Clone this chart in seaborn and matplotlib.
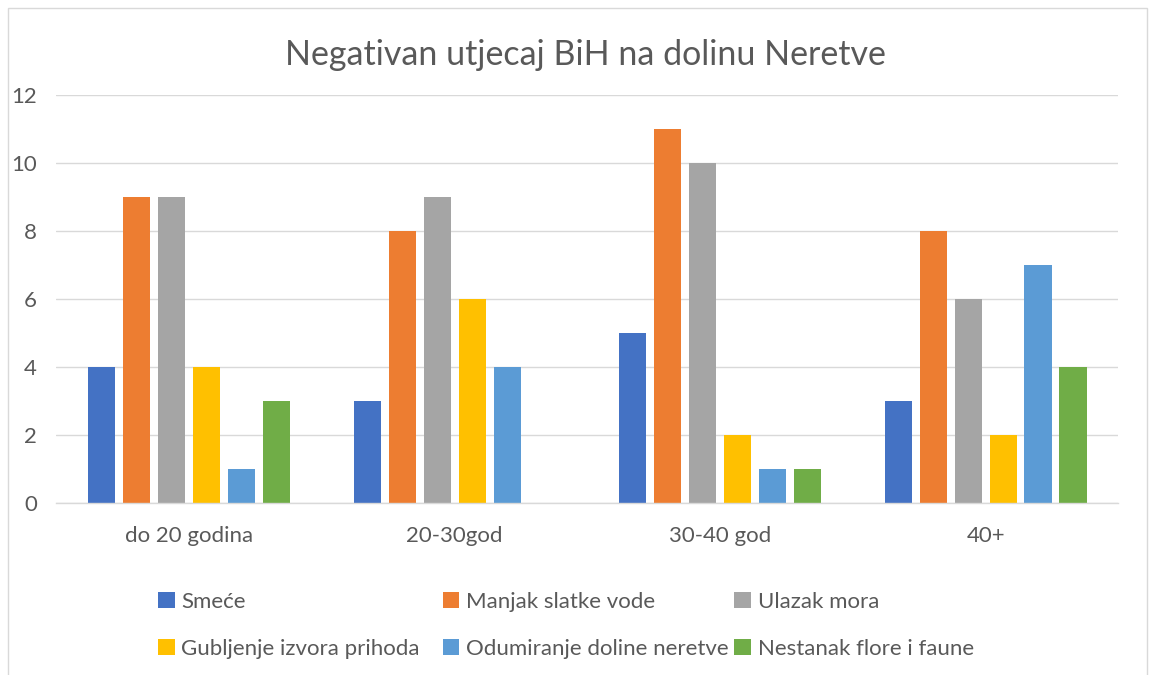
import numpy as np
import pandas as pd
import seaborn as sns
import matplotlib.pyplot as plt
from matplotlib.patches import Rectangle

# data
groups = ['do 20 godina', '20-30god', '30-40 god', '40+']
series = ['Smeće', 'Manjak slatke vode', 'Ulazak mora',
          'Gubljenje izvora prihoda', 'Odumiranje doline neretve', 'Nestanak flore i faune']
smece = [4, 3, 5, 3]
manjak = [9, 8, 11, 8]
ulazak = [9, 9, 10, 6]
gubljenje = [4, 6, 2, 2]
odumiranje = [1, 4, 1, 7]
nestanak = [3, 0, 1, 4]
colors = ['#4472C4', '#ED7D31', '#A5A5A5', '#FFC000', '#5B9BD5', '#70AD47']

vals = [smece, manjak, ulazak, gubljenje, odumiranje, nestanak]
rows = []
for s, v in zip(series, vals):
    for g, x in zip(groups, v):
        rows.append({'grupa': g, 'serija': s, 'broj': x})
df = pd.DataFrame(rows)

sns.set_style('white')
plt.rcParams['font.family'] = ['Lato', 'DejaVu Sans']
txt = '#595959'

fig = plt.figure(figsize=(11.53, 6.75), dpi=100)
ax = fig.add_axes([0.049, 0.255, 0.921, 0.604])
sns.barplot(data=df, x='grupa', y='broj', hue='serija', hue_order=series,
            palette=colors, width=0.79, gap=0.22, ax=ax, legend=True,
            saturation=1, linewidth=0)

ax.set_ylim(0, 12)
ax.set_yticks(range(0, 13, 2))
ax.set_xlim(-0.5, 3.5)
ax.grid(axis='y', color='#D9D9D9', linewidth=1)
ax.set_axisbelow(True)
for k in ['left', 'right', 'top']:
    ax.spines[k].set_visible(False)
ax.spines['bottom'].set_color('#D9D9D9')
ax.spines['bottom'].set_linewidth(1)
ax.tick_params(axis='both', length=0, labelsize=16, colors=txt)
ax.tick_params(axis='x', pad=17)
ax.tick_params(axis='y', pad=14)
ax.set_xlabel('')
ax.set_ylabel('')

fig.text(0.508, 0.918, 'Negativan utjecaj BiH na dolinu Neretve', ha='center', va='center',
         fontsize=24.5, color=txt)

h, l = ax.get_legend_handles_labels()
ax.get_legend().remove()
# one legend per column so the columns sit where Excel put them
for i, x0 in enumerate([0.137, 0.384, 0.637]):
    fig.legend([h[i], h[i + 3]], [l[i], l[i + 3]], loc='upper left',
               bbox_to_anchor=(x0, 0.123), frameon=False, fontsize=16,
               labelcolor=txt, handlelength=0.75, handleheight=0.75,
               handletextpad=0.3, labelspacing=1.2, borderpad=0, borderaxespad=0)

fig.patches.append(Rectangle((0.007, -0.05), 0.988, 1.038, transform=fig.transFigure,
                             fill=False, edgecolor='#D9D9D9', linewidth=1))

fig.savefig('out.png', dpi=100)
